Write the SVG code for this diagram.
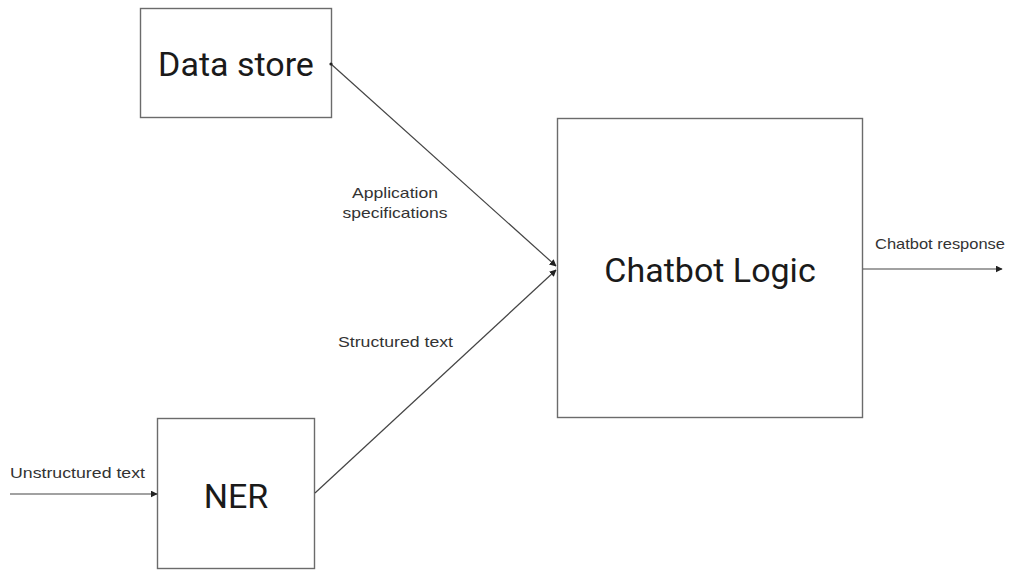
<svg xmlns="http://www.w3.org/2000/svg" width="1017" height="570" viewBox="0 0 1017 570">
  <defs>
    <marker id="arr" viewBox="0 0 10 10" refX="9" refY="5" markerWidth="7" markerHeight="7" markerUnits="userSpaceOnUse" orient="auto">
      <path d="M0,0 L10,5 L0,10 z" fill="#222"/>
    </marker>
  </defs>
  <style>
    .box { fill: #fff; stroke: #6b6b6b; stroke-width: 1.4; }
    .big { font-family: Roboto, "Liberation Sans", sans-serif; font-size: 34px; fill: #1a1a1a; text-anchor: middle; }
    .lbl { font-family: "Liberation Sans", Arial, sans-serif; font-size: 15px; fill: #333; }
    .edge { fill: none; stroke: #444; stroke-width: 1.2; }
  </style>
  <rect width="1017" height="570" fill="#fff"/>
  <g id="data-store">
    <rect class="box" x="140.5" y="8.5" width="191" height="109"/>
    <text class="big" x="236" y="76">Data store</text>
  </g>
  <g id="chatbot-logic">
    <rect class="box" x="557.5" y="118.5" width="305" height="299"/>
    <text class="big" x="710" y="282" font-size="35">Chatbot Logic</text>
  </g>
  <g id="ner">
    <rect class="box" x="157.5" y="418.5" width="157" height="150"/>
    <text class="big" x="236" y="508" font-size="35">NER</text>
  </g>
  <g id="connectors">
    <line class="edge" x1="331" y1="64" x2="556" y2="266" marker-end="url(#arr)"/>
    <circle cx="331" cy="64" r="1.6" fill="#222"/>
    <line class="edge" x1="315" y1="493" x2="556" y2="270" marker-end="url(#arr)"/>
    <line class="edge" x1="10" y1="494" x2="157" y2="494" marker-end="url(#arr)"/>
    <line class="edge" x1="863" y1="269" x2="1002" y2="269" marker-end="url(#arr)"/>
  </g>
  <g id="labels">
    <text class="lbl" x="395" y="198" text-anchor="middle" textLength="86" lengthAdjust="spacingAndGlyphs">Application</text>
    <text class="lbl" x="395" y="218" text-anchor="middle" textLength="105" lengthAdjust="spacingAndGlyphs">specifications</text>
    <text class="lbl" x="338" y="347" textLength="115" lengthAdjust="spacingAndGlyphs">Structured text</text>
    <text class="lbl" x="10" y="478" textLength="135" lengthAdjust="spacingAndGlyphs">Unstructured text</text>
    <text class="lbl" x="875" y="249" textLength="130" lengthAdjust="spacingAndGlyphs">Chatbot response</text>
  </g>
</svg>
